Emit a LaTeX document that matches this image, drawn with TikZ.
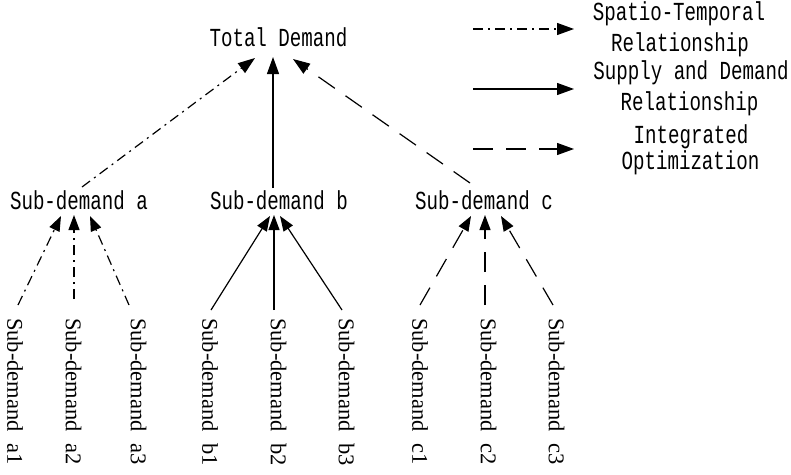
\documentclass[tikz,border=0pt]{standalone}
\usepackage{fontspec}
\setmainfont{Liberation Serif}
\newfontfamily\boxfont[FakeStretch=0.737]{Liberation Mono}
\usetikzlibrary{arrows.meta}

\begin{document}
\begin{tikzpicture}[x=1pt, y=-1pt,
  lbl/.style={font=\boxfont\fontsize{26}{31}\selectfont, inner sep=0pt, anchor=base},
  leaf/.style={font=\fontsize{22.5}{27}\selectfont, inner sep=0pt, rotate=-90, anchor=west},
  link/.style={line width=1.2pt, -{Triangle[length=17pt,width=12pt]}},
  sublink/.style={line width=1.2pt, -{Triangle[length=15pt,width=11pt]}},
  spatial/.style={dash pattern=on 10pt off 5pt on 2pt off 5pt},
  supply/.style={solid},
  integ/.style={dash pattern=on 20pt off 13pt},
]
\useasboundingbox (0,0) rectangle (791,474);

% hierarchy labels
\node[lbl] (T)  at (278.5,46) {Total Demand};
\node[lbl] (sa) at (79,209)   {Sub-demand a};
\node[lbl] (sb) at (279,209)  {Sub-demand b};
\node[lbl] (sc) at (484,209)  {Sub-demand c};

% leaf labels, set vertically
\node[leaf] (a1) at (15,318)    {Sub-demand~~a1};
\node[leaf] (a2) at (73.5,318)  {Sub-demand~~a2};
\node[leaf] (a3) at (138.5,318) {Sub-demand~~a3};
\node[leaf] (b1) at (210,318)   {Sub-demand~~b1};
\node[leaf] (b2) at (278.5,318) {Sub-demand~~b2};
\node[leaf] (b3) at (346.5,318) {Sub-demand~~b3};
\node[leaf] (c1) at (420,318)   {Sub-demand~~c1};
\node[leaf] (c2) at (488.5,318) {Sub-demand~~c2};
\node[leaf] (c3) at (556.5,318) {Sub-demand~~c3};

% sub-demands to total demand
\draw[link,spatial] ([shift={(3,-22)}]sa.base)   -- ([shift={(-23.5,12)}]T.base);
\draw[link,supply]  ([shift={(-6,-21)}]sb.base)  -- ([shift={(-5.5,11)}]T.base);
\draw[link,integ]   ([shift={(-14,-26)}]sc.base) -- ([shift={(14.5,13)}]T.base);

% leaves to sub-demands
\draw[sublink,spatial] ([shift={(3,-13)}]a1.west)    -- ([shift={(-18,7)}]sa.base);
\draw[sublink,spatial] ([shift={(0.5,-19)}]a2.west)  -- ([shift={(-5,6)}]sa.base);
\draw[sublink,spatial] ([shift={(-9.5,-13)}]a3.west) -- ([shift={(11,7)}]sa.base);

\draw[sublink,supply] ([shift={(1,-8)}]b1.west)    -- ([shift={(-9,7)}]sb.base);
\draw[sublink,supply] ([shift={(-4.5,-8)}]b2.west) -- ([shift={(-5,6)}]sb.base);
\draw[sublink,supply] ([shift={(-4.5,-8)}]b3.west) -- ([shift={(1,7)}]sb.base);

\draw[sublink,integ] ([shift={(0,-13)}]c1.west)    -- ([shift={(-13,7)}]sc.base);
\draw[sublink,integ] ([shift={(-3.5,-13)}]c2.west) -- ([shift={(1,6)}]sc.base);
\draw[sublink,integ] ([shift={(-3.5,-13)}]c3.west) -- ([shift={(17,7)}]sc.base);

% legend
\coordinate (k1s) at (473,29);  \coordinate (k1e) at (574,29);
\coordinate (k2s) at (473,89);  \coordinate (k2e) at (574,89);
\coordinate (k3s) at (473,149); \coordinate (k3e) at (574,149);
\draw[link,spatial] (k1s) -- (k1e);
\draw[link,supply]  (k2s) -- (k2e);
\draw[link,integ]   (k3s) -- (k3e);

\node[lbl] (k1a) at (679,20)    {Spatio-Temporal};
\node[lbl] (k1b) at (680,51)    {Relationship};
\node[lbl] (k2a) at (691,79)    {Supply and Demand};
\node[lbl] (k2b) at (689.5,110) {Relationship};
\node[lbl] (k3a) at (691,143)   {Integrated};
\node[lbl] (k3b) at (690.5,169) {Optimization};
\end{tikzpicture}
\end{document}
